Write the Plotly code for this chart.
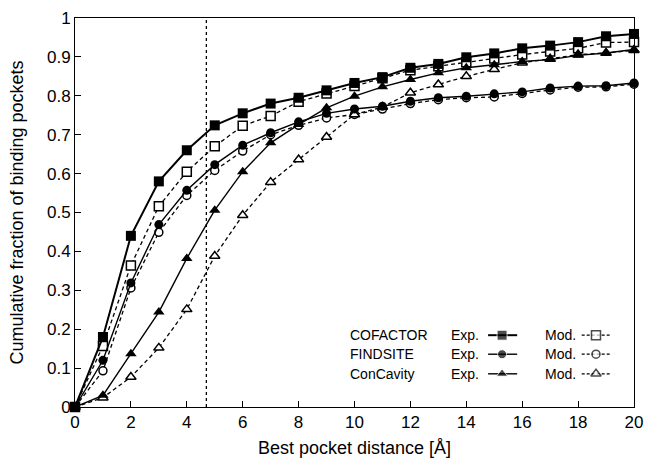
import plotly.graph_objects as go

distance = list(range(0, 21))

cofactor_exp = [0, 0.18, 0.44, 0.58, 0.66, 0.724, 0.755, 0.78, 0.795, 0.814, 0.833,
                0.848, 0.872, 0.882, 0.899, 0.909, 0.922, 0.929, 0.938, 0.953, 0.959]
cofactor_mod = [0, 0.157, 0.364, 0.516, 0.605, 0.67, 0.723, 0.748, 0.785, 0.806, 0.825,
                0.845, 0.866, 0.876, 0.886, 0.896, 0.906, 0.914, 0.922, 0.937, 0.938]
findsite_exp = [0, 0.12, 0.319, 0.469, 0.557, 0.623, 0.673, 0.705, 0.733, 0.755, 0.766,
                0.773, 0.786, 0.795, 0.799, 0.805, 0.81, 0.82, 0.825, 0.826, 0.833]
findsite_mod = [0, 0.093, 0.306, 0.449, 0.544, 0.608, 0.658, 0.7, 0.724, 0.743, 0.752,
                0.766, 0.78, 0.79, 0.795, 0.797, 0.806, 0.815, 0.822, 0.823, 0.83]
concavity_exp = [0, 0.03, 0.137, 0.244, 0.382, 0.506, 0.605, 0.679, 0.726, 0.769, 0.799,
                 0.823, 0.842, 0.859, 0.872, 0.88, 0.888, 0.893, 0.904, 0.91, 0.919]
concavity_mod = [0, 0.024, 0.077, 0.152, 0.251, 0.388, 0.493, 0.578, 0.636, 0.694, 0.752,
                 0.771, 0.808, 0.829, 0.85, 0.868, 0.885, 0.895, 0.906, 0.91, 0.917]

methods = ["COFACTOR", "FINDSITE", "ConCavity"]
symbols = ["square", "circle", "triangle-up"]
exp_series = [cofactor_exp, findsite_exp, concavity_exp]
mod_series = [cofactor_mod, findsite_mod, concavity_mod]
exp_widths = [2.0, 1.4, 1.4]
marker_sizes = [10, 9, 10]

cutoff = 4.7

x_ticks = list(range(0, 21, 2))
y_ticks = [0, 0.1, 0.2, 0.3, 0.4, 0.5, 0.6, 0.7, 0.8, 0.9, 1]
y_ticktext = ["0", "0.1", "0.2", "0.3", "0.4", "0.5", "0.6", "0.7", "0.8", "0.9", "1"]

FONT = "Liberation Sans, Arial, sans-serif"

fig = go.Figure()

for name, sym, ys, ms in zip(methods, symbols, mod_series, marker_sizes):
    fig.add_trace(go.Scatter(
        x=distance, y=ys, mode="lines+markers", name=name + " Mod.",
        line=dict(color="black", width=1.3, dash="4px,3px"),
        marker=dict(symbol=sym, size=ms - 1, color="white",
                    line=dict(color="black", width=1.5)),
        cliponaxis=False, showlegend=False))

for name, sym, ys, w, ms in zip(methods, symbols, exp_series, exp_widths, marker_sizes):
    fig.add_trace(go.Scatter(
        x=distance, y=ys, mode="lines+markers", name=name + " Exp.",
        line=dict(color="black", width=w),
        marker=dict(symbol=sym, size=ms, color="black",
                    line=dict(color="black", width=0)),
        cliponaxis=False, showlegend=False))

# vertical dotted cutoff line
fig.add_shape(type="line", xref="x", yref="paper", x0=cutoff, x1=cutoff, y0=0, y1=1,
              line=dict(color="black", width=1.3, dash="dot"))

# custom legend (text then sample) on an overlay axis
row_y = [0.1846, 0.1357, 0.0853]
for i, name in enumerate(methods):
    y = row_y[i]
    fig.add_annotation(x=0.488, y=y, xref="paper", yref="paper", text=name,
                       showarrow=False, xanchor="left", yanchor="middle",
                       font=dict(family=FONT, size=14, color="black"))
    fig.add_annotation(x=0.669, y=y, xref="paper", yref="paper", text="Exp.",
                       showarrow=False, xanchor="left", yanchor="middle",
                       font=dict(family=FONT, size=14, color="black"))
    fig.add_annotation(x=0.8367, y=y, xref="paper", yref="paper", text="Mod.",
                       showarrow=False, xanchor="left", yanchor="middle",
                       font=dict(family=FONT, size=14, color="black"))
    fig.add_trace(go.Scatter(
        x=[0.739, 0.764, 0.791], y=[y, y, y], xaxis="x2", yaxis="y2",
        mode="lines+markers", line=dict(color="black", width=exp_widths[i]),
        marker=dict(symbol=symbols[i], size=[0, marker_sizes[i], 0], color="black"),
        cliponaxis=False, showlegend=False, hoverinfo="skip"))
    fig.add_trace(go.Scatter(
        x=[0.9064, 0.932, 0.957], y=[y, y, y], xaxis="x2", yaxis="y2",
        mode="lines+markers", line=dict(color="black", width=1.3, dash="3px,2px"),
        marker=dict(symbol=symbols[i], size=[0, marker_sizes[i] - 1, 0], color="white",
                    line=dict(color="black", width=1.5)),
        cliponaxis=False, showlegend=False, hoverinfo="skip"))

fig.update_layout(
    width=649, height=458,
    margin=dict(l=75, r=15, t=18, b=51),
    paper_bgcolor="white", plot_bgcolor="white",
    font=dict(family=FONT, size=17, color="black"),
    xaxis=dict(range=[0, 20], tickvals=x_ticks, ticks="inside", ticklen=6,
               tickwidth=1, tickcolor="black", showline=True, linecolor="black",
               linewidth=1, mirror=True, showgrid=False, zeroline=False,
               tickfont=dict(size=17), automargin=False,
               title=dict(text="Best pocket distance [Å]", font=dict(size=18), standoff=13)),
    yaxis=dict(range=[0, 1], tickvals=y_ticks, ticktext=y_ticktext, ticks="inside",
               ticklen=6, tickwidth=1, tickcolor="black", showline=True,
               linecolor="black", linewidth=1, mirror=True, showgrid=False,
               zeroline=False, tickfont=dict(size=17), automargin=False,
               title=dict(text="Cumulative fraction of binding pockets",
                          font=dict(size=18), standoff=18)),
    xaxis2=dict(range=[0, 1], overlaying="x", visible=False, fixedrange=True),
    yaxis2=dict(range=[0, 1], overlaying="y", visible=False, fixedrange=True),
)

fig.write_html("out.html")
